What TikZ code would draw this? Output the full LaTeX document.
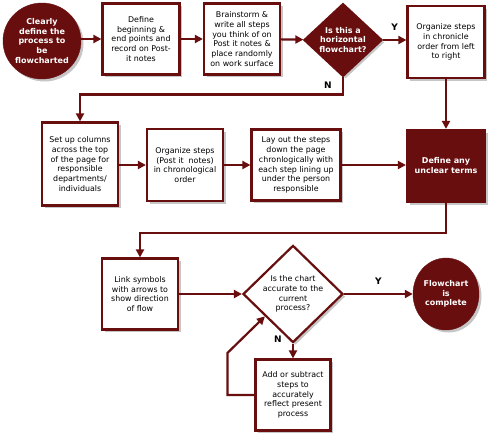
\documentclass[tikz,border=0pt]{standalone}
\usepackage{fontspec}
\setmainfont{DejaVu Sans}
\usepackage{tikz}
\usetikzlibrary{positioning,arrows.meta,shapes.geometric,shadows,calc}
\definecolor{oxblood}{RGB}{104,14,14}

\begin{document}
\begin{tikzpicture}[x=1pt, y=-1pt,
  shade/.style={drop shadow={shadow xshift=2.5pt, shadow yshift=-2.5pt, fill=black!50, opacity=0.45}},
  stepbox/.style={rectangle, draw=oxblood, fill=white, line width=2.2pt, shade,
                  font=\fontsize{7.9}{9.7}\selectfont, inner sep=1pt, align=center,
                  minimum width=77pt, minimum height=71pt},
  darkbox/.style={stepbox, fill=oxblood, text=white, font=\fontsize{8}{10}\selectfont\bfseries},
  term/.style={ellipse, draw=oxblood, fill=oxblood, text=white, shade, inner sep=0pt,
               font=\fontsize{8}{9.7}\selectfont\bfseries, align=center},
  decide/.style={diamond, draw=oxblood, line width=2.2pt, shade, inner sep=0pt, align=center},
  ar/.style={-{Triangle[length=8pt, width=8pt]}, line width=2.2pt, oxblood},
  yn/.style={font=\fontsize{9}{10}\selectfont\bfseries},
]
\useasboundingbox (0,0) rectangle (495,442);

% top row
\node[term, minimum width=78pt, minimum height=76pt] (start) at (42,41)
    {Clearly\\define the\\process to\\be\\flowcharted};
\node[stepbox] (ends) at (141,39)
    {Define\\beginning \&\\end points and\\record on Post-\\it notes};
\node[stepbox, minimum width=76pt] (brain) at (242,39)
    {Brainstorm \&\\write all steps\\you think of on\\Post it notes \&\\place randomly\\on work surface};
\node[decide, fill=oxblood, text=white, font=\fontsize{8}{9.7}\selectfont\bfseries,
      minimum width=78pt, minimum height=72pt] (horiz) at (343,40)
    {Is this a\\horizontal\\flowchart?};
\node[stepbox, minimum height=72pt] (chron) at (446,42)
    {Organize steps\\in chronicle\\order from left\\to right};

% middle row
\node[stepbox, minimum width=76pt, minimum height=83pt] (cols) at (80,164)
    {Set up columns\\across the top\\of the page for\\responsible\\departments/\\individuals};
\node[stepbox, minimum width=76pt, minimum height=72pt] (order) at (185,165)
    {Organize steps\\(Post it\ \ notes)\\in chronological\\order};
\node[stepbox, minimum width=89pt] (layout) at (296,165)
    {Lay out the steps\\down the page\\chronlogically with\\each step lining up\\under the person\\responsible};
\node[darkbox, minimum width=78pt, minimum height=72pt] (terms) at (446,166)
    {Define any\\unclear terms};

% bottom rows
\node[stepbox, minimum width=76pt] (link) at (140,294)
    {Link symbols\\with arrows to\\show direction\\of flow};
\node[decide, fill=white, font=\fontsize{7.9}{9.7}\selectfont,
      minimum width=100pt, minimum height=70pt] (accurate) at (293,294)
    {Is the chart\\accurate to the\\current\\process?};
\node[term, minimum width=66pt, minimum height=72pt] (done) at (446,294)
    {Flowchart\\is\\complete};
\node[stepbox, minimum width=75pt] (fix) at (293,395)
    {Add or subtract\\steps to\\accurately\\reflect present\\process};

% connectors
\draw[ar] (start.east|-ends) -- (ends);
\draw[ar] (ends) -- (brain);
\draw[ar] (brain) -- (horiz);
\draw[ar] (horiz) -- (chron.west|-horiz) node[yn, midway, above=5pt, black] {Y};
\draw[ar] (horiz.south) -- ++(0,17) -| (cols.north);
\node[yn] (hn) at (328,85) {N};
\draw[ar] (chron) -- (terms);
\draw[ar] (cols.east|-order) -- (order);
\draw[ar] (order) -- (layout);
\draw[ar] (layout) -- (terms.west|-layout);
\draw[ar] (terms.south) -- ++(0,30) -| (link.north);
\draw[ar] (link) -- (accurate);
\draw[ar] (accurate) -- (done) node[yn, midway, above=5pt, black] {Y};
\draw[ar] (accurate) -- (fix);
\node[yn] (an) at (278,339) {N};
\coordinate (back) at ($(accurate.west)!0.45!(accurate.south)$);
\draw[ar] (fix.west) -- ++(-27,0) -- ++(0,-42) -- (back);
\end{tikzpicture}
\end{document}
